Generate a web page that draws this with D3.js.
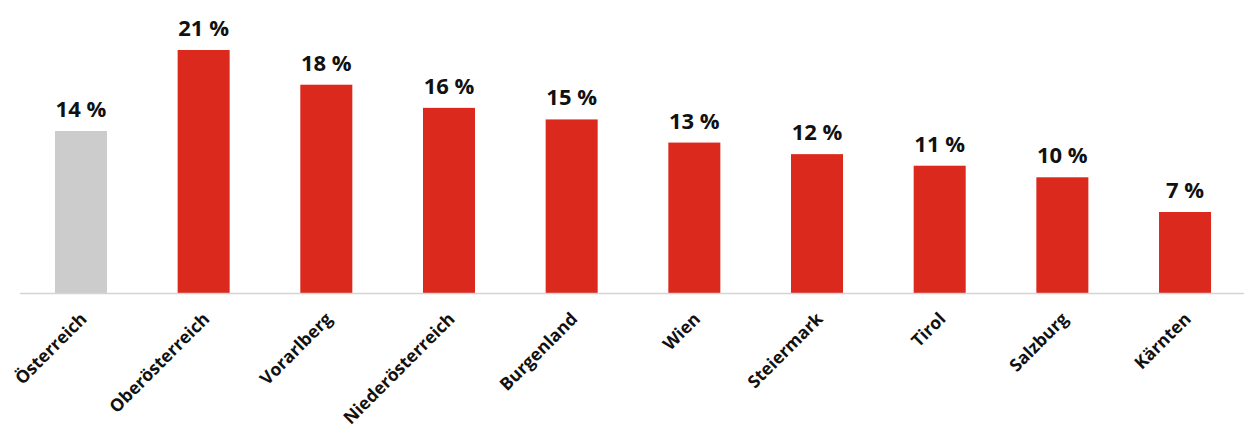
<!DOCTYPE html>
<html lang="en">
<head>
    <meta charset="utf-8">
    <title>Bar chart</title>
    <script src="https://cdn.jsdelivr.net/npm/d3@7"></script>
    <style>
        body { margin: 0; background: #fff; }
    </style>
</head>
<body>
<script>
// -- Data -- //
const regions = ["Österreich", "Oberösterreich", "Vorarlberg", "Niederösterreich", "Burgenland",
                 "Wien", "Steiermark", "Tirol", "Salzburg", "Kärnten"];
const shares = [14, 21, 18, 16, 15, 13, 12, 11, 10, 7];
const highlight = ["Österreich"];

// -- Setting -- //
const width = 1244, height = 428;
const baseY = 293;

const svg = d3.select("body").append("svg")
    .attr("width", width)
    .attr("height", height);

const x = d3.scaleBand()
    .domain(regions)
    .range([20, 1246])
    .paddingInner(0.576)
    .paddingOuter(0.285);

const y = d3.scaleLinear()
    .domain([0, 21])
    .range([baseY, 50]);

const data = regions.map((r, i) => ({ region: r, value: shares[i] }));

// bars
svg.append("g").selectAll("rect")
    .data(data)
    .join("rect")
        .attr("x", d => x(d.region))
        .attr("y", d => y(d.value))
        .attr("width", x.bandwidth())
        .attr("height", d => y(0) - y(d.value))
        .attr("fill", d => highlight.includes(d.region) ? "#cccccc" : "#dc291e");

// baseline
const axis = svg.append("g")
    .attr("transform", `translate(0,${baseY})`)
    .call(d3.axisBottom(x).tickSize(0).tickPadding(0));
axis.select(".domain")
    .attr("d", `M20,0.5H${width}`)
    .attr("stroke", "#d4d4d4")
    .attr("stroke-width", 1.5);
axis.selectAll(".tick text")
    .attr("font-family", "'Open Sans', sans-serif")
    .attr("font-weight", "bold")
    .attr("font-size", 17.5)
    .attr("fill", "#111")
    .attr("text-anchor", "end")
    .attr("dy", null)
    .attr("y", 0)
    .attr("transform", "translate(7,27) rotate(-45)");

// value labels
svg.append("g").selectAll("text")
    .data(data)
    .join("text")
        .attr("x", d => x(d.region) + x.bandwidth() / 2)
        .attr("y", d => y(d.value) - 14)
        .attr("text-anchor", "middle")
        .attr("font-family", "'Open Sans', sans-serif")
        .attr("font-weight", "bold")
        .attr("font-size", 22)
        .attr("fill", "#111")
        .text(d => d.value + " %");
</script>
</body>
</html>
